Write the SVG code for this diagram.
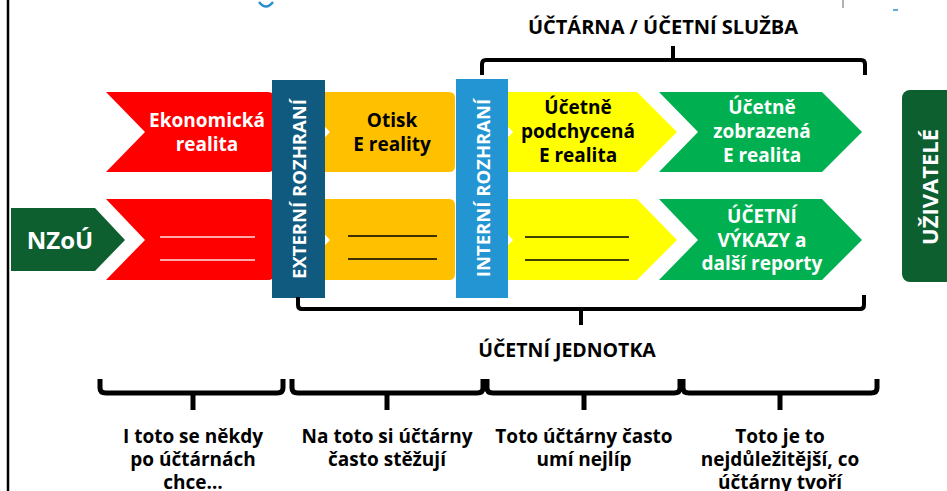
<svg xmlns="http://www.w3.org/2000/svg" width="947" height="491" viewBox="0 0 947 491">
<style>
text{font-family:"Open Sans","DejaVu Sans",sans-serif;font-weight:700;text-anchor:middle}
.w{fill:#ffffff}
.k{fill:#000000}
.t19{font-size:19px}
.br{fill:none;stroke:#000;stroke-linecap:butt;stroke-linejoin:round}
.ln{stroke-width:1.3}
</style>
<rect x="0" y="0" width="947" height="491" fill="#ffffff"/>
<line x1="8" y1="0" x2="8" y2="491" stroke="#000" stroke-width="2.5"/>
<path d="M259,2 Q266,11 273,2" fill="none" stroke="#2a8fd0" stroke-width="2.5"/>
<line x1="843" y1="0" x2="843" y2="8" stroke="#666" stroke-width="1"/>
<line x1="893" y1="10" x2="898" y2="10" stroke="#2a8fd0" stroke-width="1.5"/>

<g id="nzou">
<path d="M11,208 H95 L125,240 L95,271 H11 Z" fill="#0d5f30"/>
<text x="60" y="249" class="w" font-size="24">NZoÚ</text>
</g>

<g id="ekonomicka-realita">
<path d="M106,92 H268 Q274,92 274,98 V166 Q274,172 268,172 H106 L145,132 Z" fill="#ff0000"/>
<text class="w t19" x="207" y="127">Ekonomická</text>
<text class="w t19" x="207" y="151">realita</text>
</g>
<g id="red-row2">
<path d="M106,199 H268 Q274,199 274,205 V274 Q274,280 268,280 H106 L145,240 Z" fill="#ff0000"/>
<line x1="160" y1="237" x2="255" y2="237" stroke="#ffe0e0" class="ln"/>
<line x1="160" y1="260" x2="255" y2="260" stroke="#ffe0e0" class="ln"/>
</g>

<g id="otisk">
<path d="M291,92 H449 Q455,92 455,98 V166 Q455,172 449,172 H291 L330,132 Z" fill="#ffc000"/>
<text class="k t19" x="392" y="127">Otisk</text>
<text class="k t19" x="392" y="151">E reality</text>
</g>
<g id="orange-row2">
<path d="M291,199 H449 Q455,199 455,205 V274 Q455,280 449,280 H291 L330,240 Z" fill="#ffc000"/>
<line x1="348" y1="236" x2="437" y2="236" stroke="#000" class="ln"/>
<line x1="348" y1="259" x2="437" y2="259" stroke="#000" class="ln"/>
</g>

<g id="externi-rozhrani">
<rect x="272" y="80" width="53" height="218" fill="#115a7f"/>
<text class="w" font-size="18.5" transform="translate(306,189) rotate(-90)">EXTERNÍ ROZHRANÍ</text>
</g>

<g id="ucetne-podchycena">
<path d="M474,92 H637 L677,132 L637,172 H474 L513,132 Z" fill="#ffff00"/>
<text class="k t19" x="578" y="114">Účetně</text>
<text class="k t19" x="578" y="138">podchycená</text>
<text class="k t19" x="578" y="162">E realita</text>
</g>
<g id="yellow-row2">
<path d="M474,199 H637 L677,240 L637,280 H474 L513,240 Z" fill="#ffff00"/>
<line x1="525" y1="237" x2="629" y2="237" stroke="#000" class="ln"/>
<line x1="525" y1="260" x2="629" y2="260" stroke="#000" class="ln"/>
</g>

<g id="interni-rozhrani">
<rect x="456" y="79" width="52" height="219" fill="#2395d3"/>
<text class="w" font-size="18.5" transform="translate(490,188) rotate(-90)">INTERNÍ ROZHRANÍ</text>
</g>

<g id="ucetne-zobrazena">
<path d="M659,92 H822 L862,132 L822,172 H659 L698,132 Z" fill="#00b050"/>
<text class="w t19" x="762" y="114">Účetně</text>
<text class="w t19" x="762" y="138">zobrazená</text>
<text class="w t19" x="762" y="162">E realita</text>
</g>
<g id="ucetni-vykazy">
<path d="M659,199 H822 L862,240 L822,280 H659 L698,240 Z" fill="#00b050"/>
<text class="w t19" x="762" y="223">ÚČETNÍ</text>
<text class="w t19" x="762" y="247">VÝKAZY a</text>
<text class="w t19" x="762" y="270">další reporty</text>
</g>

<g id="uzivatele">
<rect x="902" y="90" width="60" height="192" rx="8" fill="#0d5f30"/>
<text class="w" font-size="22" transform="translate(938,187) rotate(-90)">UŽIVATELÉ</text>
</g>

<g id="connectors">
<path class="br" stroke-width="4" d="M482,75 V64 Q482,60 486,60 H861 Q865,60 865,64 V75 M673,60 V46"/>
<path class="br" stroke-width="4" d="M298,297 V305 Q298,309 302,309 H860 Q864,309 864,305 V295 M581,309 V325"/>
<path class="br" stroke-width="5" d="M100,379 V388 Q100,393 106,393 H277 Q283,393 283,388 V379 M193,393 V410"/>
<path class="br" stroke-width="5" d="M292,379 V388 Q292,393 298,393 H477 Q483,393 483,388 V379 M387,393 V410"/>
<path class="br" stroke-width="5" d="M487,379 V388 Q487,393 493,393 H674 Q680,393 680,388 V379 M584,393 V410"/>
<path class="br" stroke-width="5" d="M683,379 V388 Q683,393 689,393 H871 Q877,393 877,388 V379 M780,393 V410"/>
</g>

<g id="label-uctarna">
<text class="k" font-size="20" x="663" y="34">ÚČTÁRNA / ÚČETNÍ SLUŽBA</text>
</g>
<g id="label-ucetni-jednotka">
<text class="k" font-size="19.5" x="567" y="357">ÚČETNÍ JEDNOTKA</text>
</g>

<g id="note-1">
<text class="k t19" x="193" y="443">I toto se někdy</text>
<text class="k t19" x="193" y="466">po účtárnách</text>
<text class="k t19" x="193" y="489">chce…</text>
</g>
<g id="note-2">
<text class="k t19" x="387" y="443">Na toto si účtárny</text>
<text class="k t19" x="387" y="466">často stěžují</text>
</g>
<g id="note-3">
<text class="k t19" x="584" y="443">Toto účtárny často</text>
<text class="k t19" x="584" y="466">umí nejlíp</text>
</g>
<g id="note-4">
<text class="k t19" x="780" y="443">Toto je to</text>
<text class="k t19" x="780" y="466">nejdůležitější, co</text>
<text class="k t19" x="780" y="489">účtárny tvoří</text>
</g>
</svg>
